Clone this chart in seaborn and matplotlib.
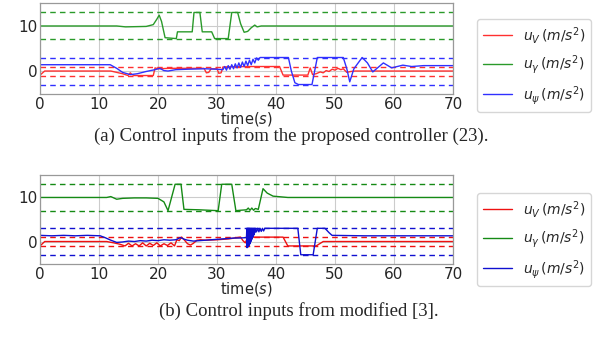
import numpy as np
import pandas as pd
import seaborn as sns
import matplotlib
matplotlib.use("Agg")
import matplotlib.pyplot as plt

# ---- (a) proposed controller ----
t_v_a = [0, 0.8, 12.0, 13.0, 14.0, 14.9, 15.3, 15.6, 16.0, 19.2, 19.5, 20, 22, 25, 27.8, 28.2, 28.6,
         29.0, 30.0, 30.3, 30.7, 31.0, 35, 40.6, 41.2, 45.4, 45.8, 46.2, 46.8, 47.5, 48, 48.5, 49,
         49.5, 50, 50.5, 51, 51.4, 52.0, 52.7, 53.4, 70]
u_v_a = [-0.9, 0, 0, -0.3, -0.6, -1.0, -0.4, -0.8, -1.0, -1.0, 0.7, 0.5, 0.6, 0.6, 0.6, -0.4, -0.3,
         0.5, 0.5, -0.5, -0.4, 0.9, 1.0, 1.0, -0.9, -0.9, 0.7, -0.8, -0.6, -0.2, -0.4, 0.1, -0.1,
         0.4, 0.2, 0.6, 0.3, 0.5, -0.3, -0.1, 0, 0]

t_g_a = [0, 13, 14.5, 18, 19.2, 19.8, 20.2, 20.6, 21.2, 23.1, 23.3, 25.8, 26.1, 27.1, 27.5, 29.1,
         29.6, 31.9, 32.5, 33.5, 34.0, 34.6, 35.2, 35.8, 36.4, 36.8, 37.5, 70]
u_g_a = [10, 10, 9.8, 9.9, 10.3, 11.5, 12.4, 11.0, 7.4, 7.2, 8.7, 8.7, 13, 13, 8.7, 8.7,
         7.2, 7.2, 13, 13, 10.5, 8.6, 8.8, 9.6, 10.2, 9.8, 10, 10]

t_p_a = [0, 11.9, 13, 14, 15.3, 16.5, 18, 19.5, 20.3, 21, 21.7, 23, 25, 28, 30,
         31.0, 31.3, 31.6, 31.9, 32.2, 32.5, 32.8, 33.1, 33.4, 33.7, 34.0, 34.3, 34.6, 34.9,
         35.2, 35.5, 35.8, 36.1, 36.4, 36.7, 37.0, 37.3,
         37.6, 42.1, 42.6, 43.2, 43.8, 46.1, 47.0, 51.4, 52.0, 52.5, 53.2, 54.6, 55.5, 56.4,
         57.3, 58.2, 59.6, 61.5, 63, 65, 70]
u_p_a = [1.4, 1.4, 0.6, -0.3, -0.8, -0.6, -0.1, 0.3, 0.6, 0.1, 0.0, 0.3, 0.4, 0.5, 0.4,
         0.3, 1.0, 0.2, 1.2, 0.4, 1.4, 0.5, 1.6, 0.7, 1.8, 0.8, 2.0, 1.0, 2.2,
         1.2, 2.4, 1.4, 2.6, 1.8, 2.9, 2.4, 3.0,
         3.0, 3.0, 0.0, -2.6, -3.0, -3.0, 3.0, 3.0, 0.5, -2.4, 0.5, 3.0, 1.8, -0.2,
         0.8, 1.8, 0.7, 1.3, 1.0, 1.2, 1.2]

# ---- (b) modified [3] ----
t_v_b = [0, 0.8, 11.3, 12.5, 13.5, 14.4, 15.0, 15.6, 16.2, 16.8, 17.4, 18.0, 18.6, 19.2, 19.8,
         20.4, 21.0, 21.6, 22.2, 22.8, 23.2, 23.6, 24.0, 24.5, 25.0, 25.5, 26.0, 26.6, 27.2, 28,
         30, 32, 34.0, 34.4, 34.8, 35.2, 41.2, 42.0, 46.8, 48.0, 70]
u_v_b = [-1, 0, 0, -0.3, -0.6, -1.0, -0.4, -1.0, -0.5, -1.0, -0.3, -1.0, -0.4, -0.9, -0.3,
         -1.0, -0.5, -0.9, -0.3, -1.0, 0.4, 0.2, 1.0, 0.3, -0.5, -0.8, -0.4, 0.3, 0.4, 0.3,
         0.4, 0.6, 1.0, 0.2, -0.3, 1.0, 1.0, -1.0, -1.0, 0, 0]

t_g_b = [0, 11.3, 12.0, 13.0, 14, 16, 18, 20.0, 21.0, 21.7, 22.2, 22.9, 23.9, 24.4, 27, 30.2,
         30.8, 32.5, 33.2, 34, 35.0, 35.3, 35.6, 35.9, 36.2, 36.5, 37.0, 37.8, 38.5, 39.5, 42, 70]
u_g_b = [10, 10, 10.2, 9.6, 9.8, 9.9, 9.9, 9.8, 9.0, 7.0, 9.5, 13, 13, 7.3, 7.2, 7.0,
         13, 13, 7.0, 7.1, 7.2, 7.6, 7.1, 7.6, 7.1, 7.5, 7.3, 12.0, 11.0, 10.3, 10, 10]

t_p_b = [0, 2, 4, 6, 8, 10.2, 11, 12, 13, 14, 15, 16, 17, 18, 19, 20, 21, 22, 23, 23.8, 24.5,
         25, 26, 27, 28, 29, 30, 31, 32, 33, 34,
         35.00, 35.05, 35.10, 35.15, 35.20, 35.25, 35.30, 35.35, 35.40, 35.45, 35.50, 35.55,
         35.60, 35.65, 35.70, 35.75, 35.80, 35.85, 35.90, 35.95, 36.00, 36.05, 36.10, 36.15,
         36.20, 36.25, 36.30, 36.35, 36.40, 36.50, 36.70, 36.90, 37.10, 37.30, 37.50, 37.70,
         37.90, 38.10,
         43.7, 44.2, 46.3, 47.0, 48.3, 49.0, 49.5, 55, 60, 65, 70]
u_p_b = [1.4, 1.3, 1.4, 1.3, 1.4, 1.3, 0.9, 0.3, -0.2, -0.1, 0.1, 0.0, 0.2, 0.1, 0.3, 0.2, 0.4,
         0.3, 0.4, 0.9, 0.5, 0.3, 0.1, 0.2, 0.3, 0.4, 0.5, 0.6, 0.7, 0.8, 0.8,
         0.9, 3.0, -1.4, 3.0, -1.3, 3.0, -1.1, 3.0, -0.9, 3.0, -0.7, 3.0,
         -0.4, 3.0, -0.1, 3.0, 0.2, 3.0, 0.5, 3.0, 0.8, 3.0, 1.1, 3.0,
         1.4, 3.0, 1.7, 3.0, 2.0, 3.0, 2.2, 3.0, 2.2, 3.0, 2.3, 3.0,
         2.4, 3.0,
         3.0, -3.0, -3.0, 3.0, 3.0, 2.0, 1.4, 1.3, 1.3, 1.3, 1.3]

v_bounds = [-1, 1]
g_bounds = [7, 13]
p_bounds = [-3, 3]
x_ticks = [0, 10, 20, 30, 40, 50, 60, 70]
y_ticks = [0, 10]

labels = [r"$u_V\,(m/s^2)$", r"$u_\gamma\,(m/s^2)$", r"$u_\psi\,(m/s^2)$"]
captions = ["(a) Control inputs from the proposed controller (23).",
            "(b) Control inputs from modified [3]."]

sns.set_style("whitegrid")
plt.rcParams['font.family'] = ['DejaVu Sans']
plt.rcParams['font.size'] = 10

fig = plt.figure(figsize=(6.02, 3.46), dpi=100)
ax_a = fig.add_axes([40/602, 1-94/346, 413/602, 91/346])
ax_b = fig.add_axes([40/602, 1-264/346, 413/602, 89/346])

panels = [
    (ax_a, [(t_v_a, u_v_a), (t_g_a, u_g_a), (t_p_a, u_p_a)], ["#ff3030", "#2a9a2a", "#3030ff"], 19),
    (ax_b, [(t_v_b, u_v_b), (t_g_b, u_g_b), (t_p_b, u_p_b)], ["#ee1111", "#158a15", "#1010d0"], 193),
]
bounds = [v_bounds, g_bounds, p_bounds]

for ax, series, cols, leg_top in panels:
    for (t, u), c, lab, bnd in zip(series, cols, labels, bounds):
        df = pd.DataFrame({"t": t, "u": u})
        sns.lineplot(data=df, x="t", y="u", ax=ax, color=c, lw=1.0, label=lab,
                     estimator=None, sort=False)
        for b in bnd:
            ax.axhline(b, color=c, ls="--", lw=1.0, dashes=(4, 3))
    ax.set_xlim(0, 70)
    ax.set_ylim(-5.1, 15.1)
    ax.set_xticks(x_ticks)
    ax.set_yticks(y_ticks)
    ax.set_ylabel("")
    ax.set_xlabel("time$(s)$", fontsize=10.5, labelpad=-1.5)
    ax.tick_params(labelsize=11, pad=2, length=0)
    ax.grid(color="#cccccc", lw=0.8)
    for sp in ax.spines.values():
        sp.set_color("#999999")
        sp.set_linewidth(0.9)
    ax.legend(loc="upper left", bbox_to_anchor=(477/602, 1-leg_top/346),
              bbox_transform=fig.transFigure, fontsize=10, frameon=True,
              borderaxespad=0, handlelength=2.1, labelspacing=0.55)

fig.text(291/602, 1-136/346, captions[0], ha="center", va="center",
         family="Liberation Serif", fontsize=13.5)
fig.text(299/602, 1-311/346, captions[1], ha="center", va="center",
         family="Liberation Serif", fontsize=13.5)

fig.savefig("out.png", dpi=100)
